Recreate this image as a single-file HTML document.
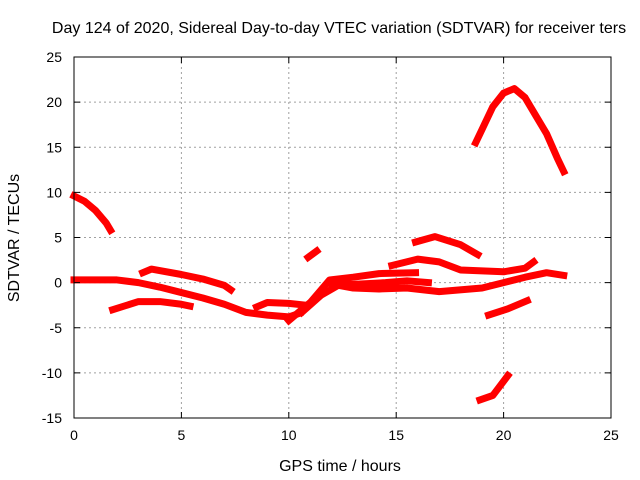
<!DOCTYPE html>
<html><head><meta charset="utf-8"><style>
body{margin:0;background:#fff}
svg{display:block;font-family:"Liberation Sans",sans-serif}
</style></head><body>
<svg id="chart" width="640" height="480">
<rect width="640" height="480" fill="#fff"/>
<text x="339" y="33" text-anchor="middle" font-size="16">Day 124 of 2020, Sidereal Day-to-day VTEC variation (SDTVAR) for receiver ters</text>
<g id="grid"></g><g id="series"></g><g id="axes"></g>
<text x="340" y="471" text-anchor="middle" font-size="16">GPS time / hours</text>
<text transform="translate(19,238) rotate(-90)" text-anchor="middle" font-size="16">SDTVAR / TECUs</text>
</svg>
<script>
const xTicks=[0,5,10,15,20,25];
const yTicks=[-15,-10,-5,0,5,10,15,20,25];
const s1=[[0,9.6],[0.5,9],[1,8],[1.5,6.6],[1.7,5.8]];
const s2=[[0,0.3],[1,0.3],[2,0.3],[3,0],[4,-0.5],[5,-1.1],[6,-1.7],[7,-2.4],[8,-3.3],[9,-3.6],[10,-3.8],[10.5,-3.4]];
const s3=[[3.2,1.1],[3.6,1.5],[5,0.9],[6,0.4],[7,-0.3],[7.3,-0.8]];
const s4=[[1.8,-3],[3,-2.1],[4,-2.1],[5,-2.4],[5.4,-2.6]];
const s5=[[8.5,-2.7],[9,-2.2],[10,-2.3],[10.8,-2.5]];
const s6=[[10,-4.2],[11,-2.2],[11.9,0.3],[13,0.6],[14.2,1],[15.9,1.1]];
const s7=[[10.6,-3.3],[11.5,-1.4],[12.3,-0.3],[13,-0.6],[14.2,-0.7],[15.5,-0.6],[17,-1],[19,-0.6],[20,0],[21,0.6],[22,1.1],[22.8,0.8]];
const s8=[[12,-0.1],[13,-0.2],[14.5,0],[15.5,0.2],[16.5,0]];
const s9=[[14.8,1.9],[16,2.6],[17,2.3],[18,1.4],[20,1.2],[21,1.6],[21.4,2.3]];
const s10=[[15.9,4.5],[16.8,5.1],[18,4.2],[18.8,3.1]];
const s11=[[10.9,2.8],[11.3,3.5]];
const s12=[[19.3,-3.6],[20.2,-2.9],[21.1,-2.0]];
const s13=[[18.9,-13],[19.5,-12.5],[20.2,-10.3]];
const s14=[[18.7,15.5],[19,17],[19.5,19.5],[20,21],[20.5,21.5],[21,20.5],[21.5,18.5],[22,16.5],[22.5,13.8],[22.8,12.3]];
const allSeries=[s1,s2,s3,s4,s5,s6,s7,s8,s9,s10,s11,s12,s13,s14];
const X0=74,X1=611,Y0=418,Y1=57;
const xs=h=>X0+(h-0)/(25-0)*(X1-X0);
const ys=v=>Y0-(v+15)/(40)*(Y0-Y1);
const NS="http://www.w3.org/2000/svg";
function mk(t,a,p){const e=document.createElementNS(NS,t);for(const k in a)e.setAttribute(k,a[k]);p.appendChild(e);return e;}
const grid=document.getElementById('grid'),axes=document.getElementById('axes'),ser=document.getElementById('series');
xTicks.forEach(t=>{
 const x=xs(t);
 if(t>0&&t<25){const g=mk('line',{x1:x,x2:x,y1:Y1,y2:Y0,stroke:'#a0a0a0','stroke-dasharray':'2,3'},grid);
 
 }
 mk('line',{x1:x,x2:x,y1:Y0,y2:Y0-6,stroke:'#000'},axes);
 mk('line',{x1:x,x2:x,y1:Y1,y2:Y1+6,stroke:'#000'},axes);
 const l=mk('text',{x:x,y:Y0+22,'text-anchor':'middle','font-size':14},axes);l.textContent=t;
 
 
});
yTicks.forEach(t=>{
 const y=ys(t);
 if(t>-15&&t<25){const g=mk('line',{x1:X0,x2:X1,y1:y,y2:y,stroke:'#a0a0a0','stroke-dasharray':'2,3'},grid);
 
 }
 mk('line',{x1:X0,x2:X0+6,y1:y,y2:y,stroke:'#000'},axes);
 mk('line',{x1:X1,x2:X1-6,y1:y,y2:y,stroke:'#000'},axes);
 const l=mk('text',{x:X0-12,y:y+5,'text-anchor':'end','font-size':14},axes);l.textContent=t;
 
 
});
const fr=mk('rect',{x:X0,y:Y1,width:X1-X0,height:Y0-Y1,fill:'none',stroke:'#000'},axes);


allSeries.forEach((s,i)=>{
 const p=mk('polyline',{points:s.map(d=>xs(d[0])+','+ys(d[1])).join(' '),fill:'none',stroke:'#f00','stroke-width':7,'stroke-linejoin':'round','stroke-linecap':'square'},ser);
 
 
});
</script>
</body></html>
